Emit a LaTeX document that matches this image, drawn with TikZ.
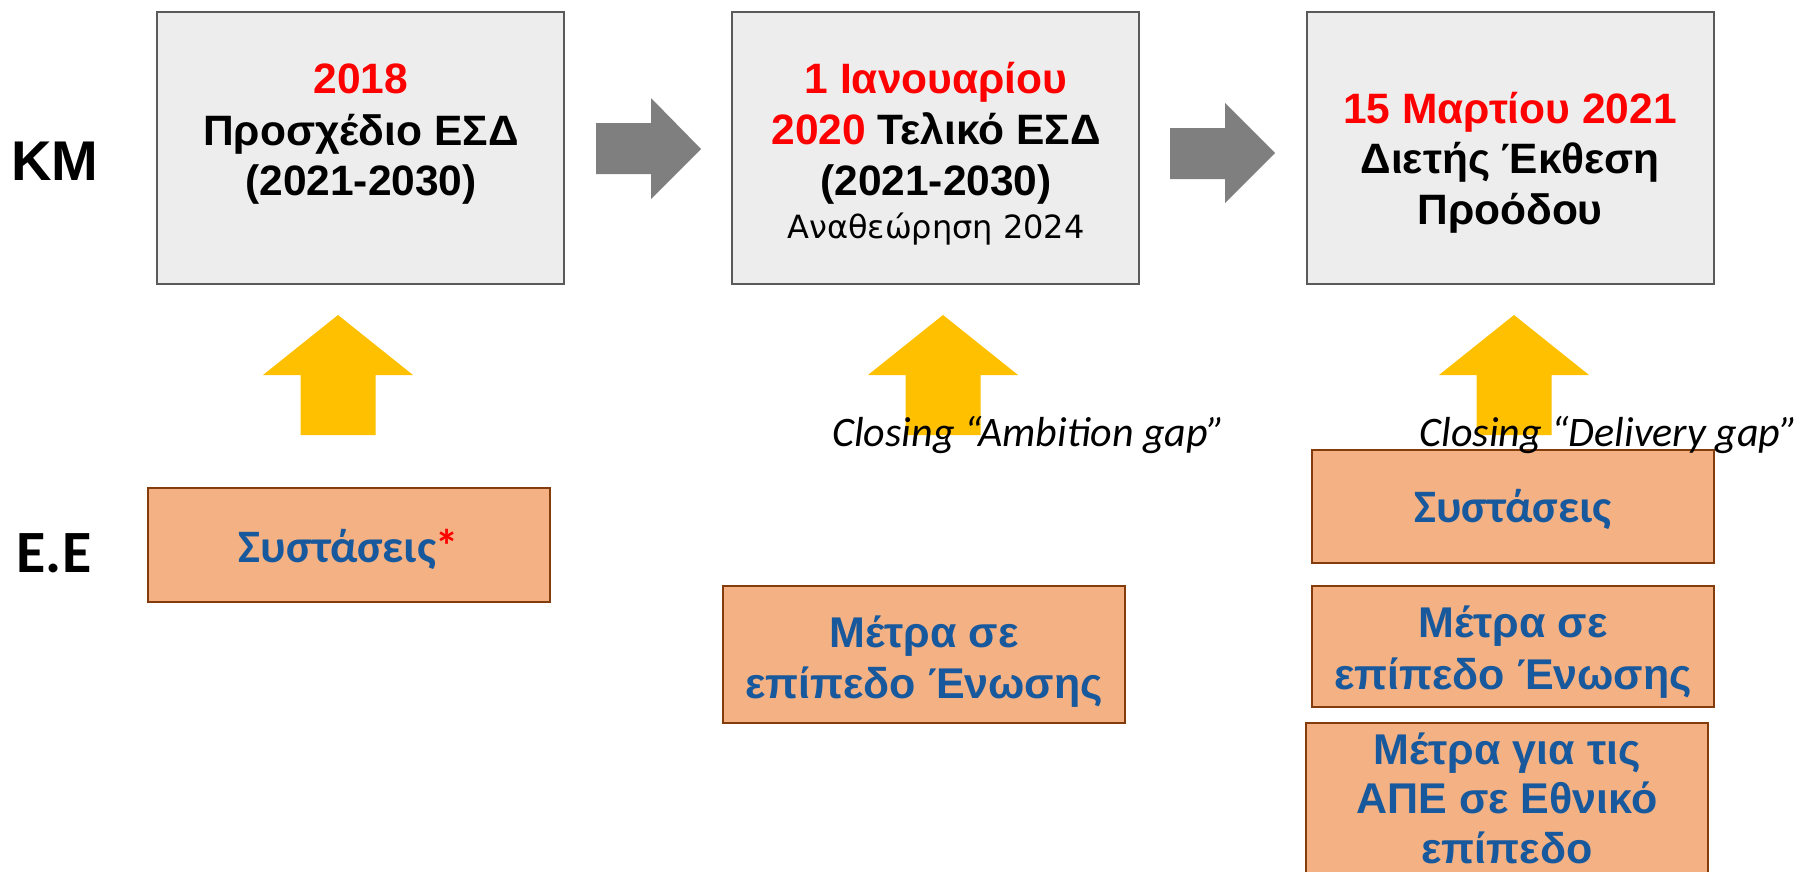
\documentclass[tikz,border=0pt]{standalone}
\usepackage{fontspec}
\setmainfont{Liberation Sans}
\newfontfamily\calfont{Carlito}
\newfontfamily\dvfont{DejaVu Sans}
\definecolor{boxfill}{HTML}{EDEDED}
\definecolor{boxline}{HTML}{5A5A5A}
\definecolor{arrgray}{HTML}{7F7F7F}
\definecolor{yel}{HTML}{FFC000}
\definecolor{ofill}{HTML}{F4B183}
\definecolor{obrd}{HTML}{843C0C}
\definecolor{tblue}{RGB}{23,89,156}
\definecolor{tred}{HTML}{FF0000}
\begin{document}
\begin{tikzpicture}[x=1pt,y=-1pt,
  graybox/.style={draw=boxline, line width=2pt, fill=boxfill, inner sep=0pt, outer sep=0pt,
    minimum width=407pt, minimum height=272pt, anchor=north west},
  obox/.style={draw=obrd, line width=2pt, fill=ofill, inner sep=0pt, outer sep=0pt,
    minimum width=402pt, anchor=north west},
  hd/.style={font=\fontsize{42.5}{48}\selectfont\bfseries, anchor=base, inner sep=0pt},
  sub/.style={font=\dvfont\fontsize{32}{38}\selectfont, anchor=base, inner sep=0pt},
  bl/.style={font=\fontsize{43}{52}\selectfont\bfseries, text=tblue, anchor=base, inner sep=0pt},
  bc/.style={font=\calfont\fontsize{46.5}{56}\selectfont\bfseries, text=tblue, anchor=base, inner sep=0pt},
  lab/.style={font=\fontsize{56}{60}\selectfont\bfseries, anchor=base, inner sep=0pt},
  labc/.style={font=\calfont\fontsize{60}{64}\selectfont\bfseries, anchor=base, inner sep=0pt},
  gap/.style={font=\calfont\itshape\fontsize{42}{48}\selectfont, anchor=base, inner sep=0pt},
  garrow/.style={fill=arrgray},
  yarrow/.style={fill=yel}
]
\useasboundingbox (0,0) rectangle (1806,871);
\clip (0,0) rectangle (1806,871);

% top row boxes
\node[graybox] (b1) at (157,12) {};
\node[graybox] (b2) at (732,12) {};
\node[graybox] (b3) at (1307,12) {};

% gray block arrows
\fill[garrow] (596,123) -- (651,123) -- (651,98) -- (701,149) -- (651,199) -- (651,174) -- (596,174) -- cycle;
\fill[garrow] (1170,128) -- (1225,128) -- (1225,103) -- (1275,153) -- (1225,203) -- (1225,179) -- (1170,179) -- cycle;

% yellow up arrows
\foreach \cx in {338,943,1514}{
  \fill[yarrow] ({\cx-37.5},435) -- ({\cx-37.5},375) -- ({\cx-75},375) -- (\cx,315)
    -- ({\cx+75},375) -- ({\cx+37.5},375) -- ({\cx+37.5},435) -- cycle;
}

% orange boxes
\node[obox, minimum height=114pt] (o1) at (148,488) {};
\node[obox, minimum height=137pt] (o2) at (723,586) {};
\node[obox, minimum height=113pt] (o3) at (1312,450) {};
\node[obox, minimum height=121pt] (o4) at (1312,586) {};
\node[obox, minimum height=200pt] (o5) at (1306,723) {};

% row labels
\node[lab] (km) at (55,180) {ΚΜ};
\node[labc] (ee) at (54,572) {Ε.Ε};

% box 1 text
\node[hd, text=tred] (b1a) at (361,93) {2018};
\node[hd] (b1b) at (361,145) {Προσχέδιο ΕΣΔ};
\node[hd] (b1c) at (361,195) {(2021-2030)};

% box 2 text
\node[hd, text=tred] (b2a) at (936,93) {1 Ιανουαρίου};
\node[hd] (b2b) at (936,144) {{\color{tred}2020} Τελικό ΕΣΔ};
\node[hd] (b2c) at (936,195) {(2021-2030)};
\node[sub] (b2d) at (936,238) {Αναθεώρηση 2024};

% box 3 text
\node[hd, text=tred] (b3a) at (1510,123) {15 Μαρτίου 2021};
\node[hd] (b3b) at (1510,173) {Διετής Έκθεση};
\node[hd] (b3c) at (1510,224) {Προόδου};

% orange box texts
\node[bc] (o1t) at (349,562) {Συστάσεις{\color{tred}*}};
\node[bl] (o2a) at (924,647) {Μέτρα σε};
\node[bl] (o2b) at (924,698) {επίπεδο Ένωσης};
\node[bc] (o3t) at (1513,522) {Συστάσεις};
\node[bl] (o4a) at (1513,637) {Μέτρα σε};
\node[bl] (o4b) at (1513,689) {επίπεδο Ένωσης};
\node[bl] (o5a) at (1507,764) {Μέτρα για τις};
\node[bl] (o5b) at (1507,813) {ΑΠΕ σε Εθνικό};
\node[bl] (o5c) at (1507,863) {επίπεδο};

% gap captions
\node[gap] (amb) at (1029,446) {Closing “Ambition gap”};
\node[gap] (del) at (1609,446) {Closing “Delivery gap”};
\end{tikzpicture}
\end{document}
